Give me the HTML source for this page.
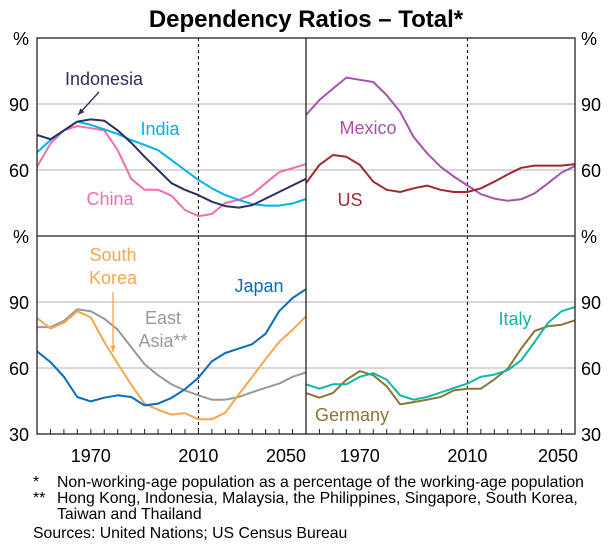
<!DOCTYPE html>
<html><head><meta charset="utf-8"><style>
html,body{margin:0;padding:0;background:#fff;}
svg{display:block;font-family:"Liberation Sans",Arial,sans-serif;}
</style></head><body>
<svg id="chart" width="612" height="547" viewBox="0 0 612 547">
<text x="306" y="27" text-anchor="middle" font-size="24" font-weight="bold">Dependency Ratios – Total*</text>
<g id="grid"></g>
<g id="series"></g>
<g id="frame"></g>
<g id="labels" font-size="18"></g>
<g font-size="15.8" fill="#000">
<text x="33" y="487">*</text>
<text x="57" y="487">Non-working-age population as a percentage of the working-age population</text>
<text x="33" y="503">**</text>
<text x="57" y="503">Hong Kong, Indonesia, Malaysia, the Philippines, Singapore, South Korea,</text>
<text x="57" y="519">Taiwan and Thailand</text>
<text x="33" y="538">Sources: United Nations; US Census Bureau</text>
</g>
</svg>
<script>
const years = [1950,1955,1960,1965,1970,1975,1980,1985,1990,1995,2000,2005,2010,2015,2020,2025,2030,2035,2040,2045,2050];
const indonesia = [75.9,74,78,82,83,82.4,78,72.4,66,60,54,51,48.6,45.6,43.6,42.9,44,47,50,53,56];
const india = [68,73.6,78,82,80.5,78.5,76.4,73.6,71.4,69,64.5,60,55.5,51.7,48.6,46.4,44.5,43.8,43.8,44.8,46.8];
const china = [61.5,72,78,80,79,78,69,56,51,51,48.3,41.8,39,40,45,46.4,49,54,59,60.8,62.7];
const mexico = [85,91.8,97,102,101,100,94,86.5,75,67.6,61.5,57,53,49,47,46,46.7,49.4,54,58.8,61.8];
const us = [54,62.3,66.8,66,62.3,54.7,51,50,51.7,52.9,51,50,50,51.7,54.7,58,61,62,62,62,62.7];
const japan = [67.6,62.7,56,46.8,44.8,46.5,47.6,46.8,43,43.8,46.4,50.3,55.6,63,66.8,68.8,70.8,75.6,85.8,91.8,95.8];
const southKorea = [82.7,78,80.6,85.8,83,71.8,62,52.4,43.8,41,38.8,39.5,36.7,36.7,39.7,48,56,64,71.8,77.4,83.5];
const eastAsia = [78.6,78.6,81.4,86.7,85.8,82.4,77.4,69.5,61.7,56.7,52.6,49.8,47.6,45.6,45.6,46.8,49,51,52.9,56,58];
const italy = [52.6,50.6,52.6,52.6,56,57.7,54.7,47.6,45.6,46.8,48.8,50.9,52.9,56,57,59,63.5,71.8,80.6,85.8,87.7];
const germany = [48.6,46.5,48.6,54.7,58.6,56.7,51.7,43.5,44.5,45.6,46.8,49.8,50.6,50.6,54.8,59.7,68.8,76.8,79,79.7,81.7];
const yTicks = [30,60,90];
const xTickLabels = [1970,2010,2050];

const NS="http://www.w3.org/2000/svg";
const L=37,M=306,R=575,T=38,MID=236,B=434;
function xs(panel,y){const x0=panel===0?L:M;return x0+(y-1950)*(M-L)/100;}
function ys(row,v){const top=row===0?T:MID;return top+(120-v)*(MID-T)/90;}
function mk(tag,attrs,parent){const e=document.createElementNS(NS,tag);for(const k in attrs)e.setAttribute(k,attrs[k]);parent.appendChild(e);return e;}
const grid=document.getElementById('grid'),ser=document.getElementById('series'),frame=document.getElementById('frame'),lab=document.getElementById('labels');

for(let row=0;row<2;row++){for(const v of [60,90]){const g=mk('line',{x1:L,x2:R,y1:ys(row,v),y2:ys(row,v),stroke:'#c0c0c0','stroke-width':1.2},grid);

}}
for(let p=0;p<2;p++){const d=mk('line',{x1:xs(p,2010),x2:xs(p,2010),y1:T,y2:B,stroke:'#000','stroke-width':1,'stroke-dasharray':'3,3'},grid);

}

function line(panel,row,vals,color,name){const pts=vals.map((v,i)=>xs(panel,years[i]).toFixed(1)+','+ys(row,v).toFixed(1)).join(' ');
const p=mk('polyline',{points:pts,fill:'none',stroke:color,'stroke-width':2,'stroke-linejoin':'round'},ser);

}
line(0,0,china,'#F06EAA','china-line');
line(0,0,india,'#00B0F0','india-line');
line(0,0,indonesia,'#2E2E62','indonesia-line');
line(1,0,mexico,'#A653A8','mexico-line');
line(1,0,us,'#A0282E','us-line');
line(0,1,eastAsia,'#999999','east-asia-line');
line(0,1,southKorea,'#F9A54E','south-korea-line');
line(0,1,japan,'#0A6DBA','japan-line');
line(1,1,germany,'#8B7536','germany-line');
line(1,1,italy,'#10B8A8','italy-line');

const fr=mk('rect',{x:L,y:T,width:R-L,height:B-T,fill:'none',stroke:'#222','stroke-width':1.3},frame);


const hm=mk('line',{x1:L,x2:R,y1:MID,y2:MID,stroke:'#222','stroke-width':1.3},frame);


const vm=mk('line',{x1:M,x2:M,y1:T,y2:B,stroke:'#222','stroke-width':1.3},frame);


for(let p=0;p<2;p++){for(let y=1955;y<2050;y+=5){const t=mk('line',{x1:xs(p,y),x2:xs(p,y),y1:B,y2:B-5,stroke:'#222','stroke-width':1},frame);

}}

function txt(x,y,s,anchor,name,color){const t=mk('text',{x:x,y:y,'text-anchor':anchor,fill:color||'#000'},lab);t.textContent=s;

return t;}
for(const side of [0,1]){const ax=side===0?29:581,anc=side===0?'end':'start';
txt(ax,ys(0,120)+7,'%',anc,'y-axis-unit-top');
txt(ax,ys(1,120)+7,'%',anc,'y-axis-unit-bottom');
for(const v of yTicks){if(v>30){txt(ax,ys(0,v)+7,String(v),anc,'y-tick-label-top');}
txt(ax,ys(1,v)+7,String(v),anc,'y-tick-label-bottom');}}
for(let p=0;p<2;p++){for(const y of xTickLabels){
if(y===2050){txt(xs(p,y)+(p===0?0:3),462,String(y),'end','x-tick-label');}
else{txt(xs(p,y),462,String(y),'middle','x-tick-label');}}}

txt(104,85,'Indonesia','middle','indonesia-label','#2E2E62');
txt(160,135,'India','middle','india-label','#00B0F0');
txt(110,205,'China','middle','china-label','#F06EAA');
txt(368,134,'Mexico','middle','mexico-label','#A653A8');
txt(350,206,'US','middle','us-label','#A0282E');
txt(113,261,'South','middle','south-korea-label','#F9A54E');
txt(113,284,'Korea','middle','south-korea-label-2','#F9A54E');
txt(163,324,'East','middle','east-asia-label','#999999');
txt(163,347,'Asia**','middle','east-asia-label-2','#999999');
txt(259,292,'Japan','middle','japan-label','#0A6DBA');
txt(515,325,'Italy','middle','italy-label','#10B8A8');
txt(352,421,'Germany','middle','germany-label','#8B7536');
function arrow(x1,y1,x2,y2,color,name){const g=mk('g',{},lab);


mk('line',{x1:x1,y1:y1,x2:x2,y2:y2,stroke:color,'stroke-width':1.3},g);
const a=Math.atan2(y2-y1,x2-x1),s=7;
const p1=[x2-s*Math.cos(a-0.4),y2-s*Math.sin(a-0.4)],p2=[x2-s*Math.cos(a+0.4),y2-s*Math.sin(a+0.4)];
mk('polygon',{points:x2+','+y2+' '+p1.join(',')+' '+p2.join(','),fill:color},g);}
arrow(99,92,78,115,'#2E2E62','indonesia-arrow');
arrow(113,292,113,352,'#F9A54E','south-korea-arrow');
</script>
</body></html>
